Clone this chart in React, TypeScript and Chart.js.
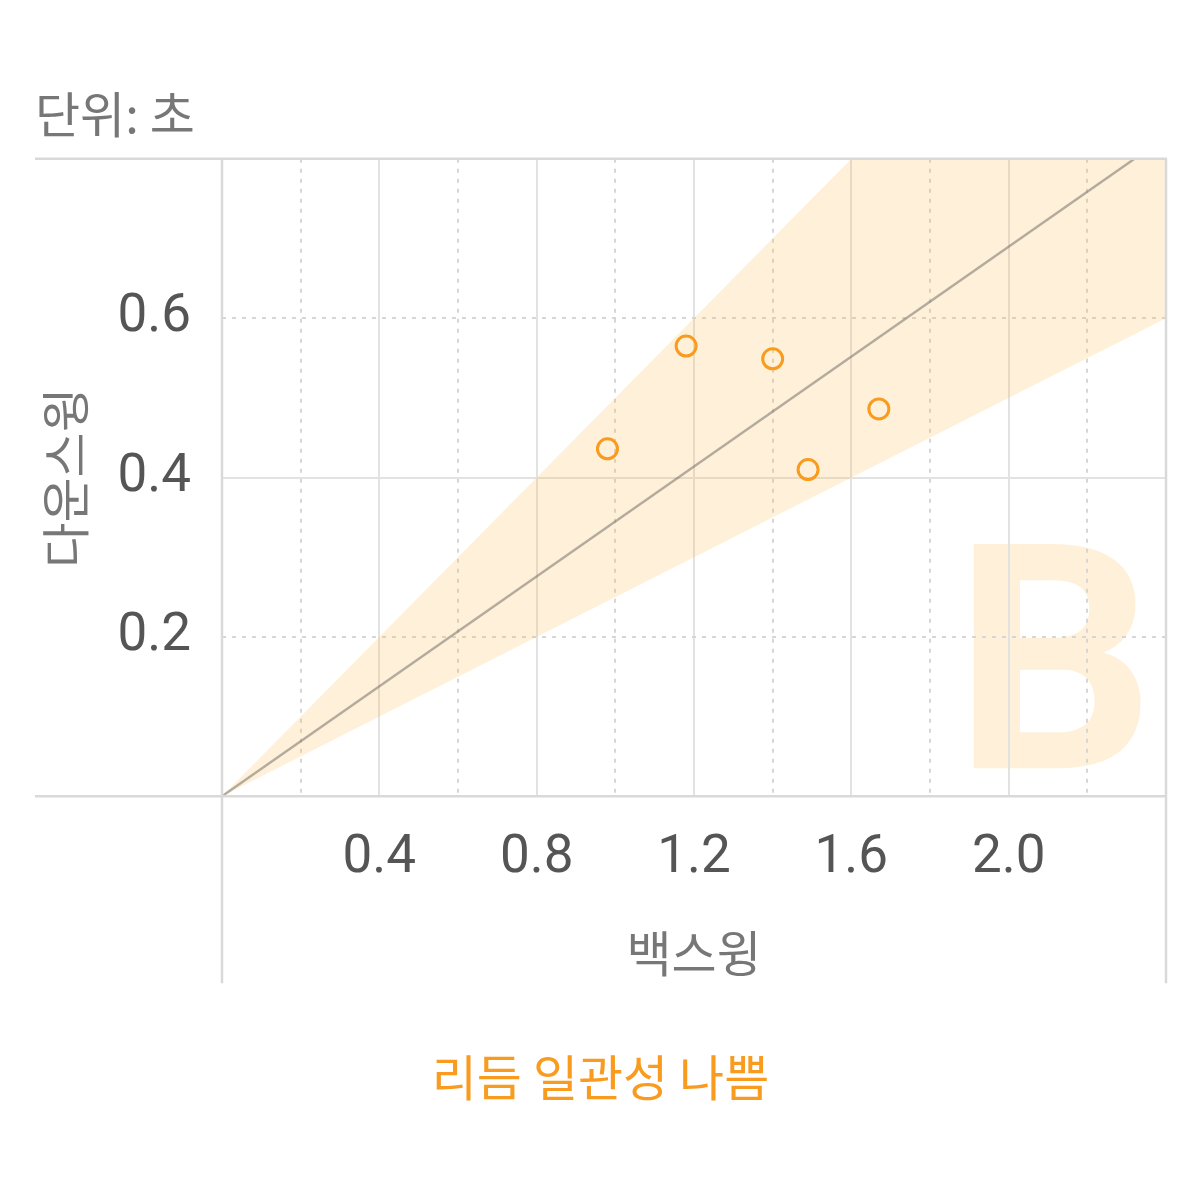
import React, { useEffect, useRef } from "react";
import { Chart, registerables } from "chart.js";

Chart.register(...registerables);

// ---- text ----
const unitLabel = "단위: 초";
const xTitle = "백스윙";
const yTitle = "다운스윙";
const verdict = "리듬 일관성 나쁨";
const gradeLetter = "B";

// ---- measured swings (seconds) ----
const backswing = [0.98, 1.18, 1.4, 1.67, 1.49];
const downswing = [0.436, 0.565, 0.549, 0.486, 0.41];

// ---- acceptable band polygon and reference ratio line ----
const bandX = [0, 1.6, 2.4, 2.4, 0];
const bandY = [0, 0.8, 0.8, 0.6, 0];
const refX = [0, 2.32];
const refY = [0, 0.8];

// ---- axes ----
const xMin = 0;
const xMax = 2.4;
const xStep = 0.2;
const yMin = 0;
const yMax = 0.8;
const yStep = 0.2;
const xTickLabels = ["0.4", "0.8", "1.2", "1.6", "2.0"];
const yTickLabels = ["0.2", "0.4", "0.6"];
const majorEvery = 0.4;

const ORANGE = "#F89B1E";
const GRID_SOLID = "#e2e2e2";
const GRID_DOT = "#d6d6d6";
const FRAME = "#d9d9d9";
const TICK_COLOR = "#555555";
const TITLE_COLOR = "#777777";
const BAND_FILL = "rgba(255,190,80,0.22)";
const WATERMARK = "rgba(255,190,80,0.22)";
const KR = '"Noto Sans CJK KR", "Noto Sans", sans-serif';
const NUM = 'Roboto, "Noto Sans CJK KR", sans-serif';

const isMajor = (v: number) => {
  const r = v / majorEvery;
  return Math.abs(r - Math.round(r)) < 1e-6;
};

const fmt = (v: number) => (Math.round(v * 10) / 10).toFixed(1);

const watermarkPlugin = {
  id: "watermark",
  beforeDraw(chart: any) {
    const { ctx, chartArea } = chart;
    ctx.save();
    ctx.font = `bold 100px Roboto, sans-serif`;
    const m0 = ctx.measureText(gradeLetter);
    const size = (227 / m0.actualBoundingBoxAscent) * 100;
    ctx.font = `bold ${size}px Roboto, sans-serif`;
    const m = ctx.measureText(gradeLetter);
    ctx.fillStyle = WATERMARK;
    ctx.textAlign = "left";
    ctx.textBaseline = "alphabetic";
    const x = chartArea.right - 25 - m.actualBoundingBoxRight;
    const y = chartArea.bottom - 28;
    ctx.fillText(gradeLetter, x, y);
    ctx.restore();
  },
};

const framePlugin = {
  id: "frame",
  afterDatasetsDraw(chart: any) {
    const { ctx, chartArea } = chart;
    const xs = chart.scales.x;
    const ys = chart.scales.y;
    ctx.save();
    ctx.strokeStyle = FRAME;
    ctx.lineWidth = 2.5;
    ctx.setLineDash([]);
    [yMin, yMax].forEach((v) => {
      const py = ys.getPixelForValue(v);
      ctx.beginPath();
      ctx.moveTo(ys.left, py);
      ctx.lineTo(chartArea.right + 1, py);
      ctx.stroke();
    });
    [xMin, xMax].forEach((v) => {
      const px = xs.getPixelForValue(v);
      ctx.beginPath();
      ctx.moveTo(px, chartArea.top);
      ctx.lineTo(px, xs.bottom);
      ctx.stroke();
    });
    ctx.restore();
  },
};

export default function App() {
  const ref = useRef<HTMLCanvasElement | null>(null);

  useEffect(() => {
    if (!ref.current) return;
    const gridColor = (c: any) =>
      c.tick && !isMajor(c.tick.value) ? GRID_DOT : GRID_SOLID;
    const gridDash = (c: any) =>
      c.tick && !isMajor(c.tick.value) ? [4, 6] : [];

    const chart = new Chart(ref.current, {
      type: "scatter",
      data: {
        datasets: [
          {
            type: "scatter",
            label: "swings",
            data: backswing.map((x, i) => ({ x, y: downswing[i] })),
            pointRadius: 10,
            pointBorderWidth: 3,
            pointBorderColor: ORANGE,
            pointBackgroundColor: "rgba(0,0,0,0)",
            borderColor: ORANGE,
            backgroundColor: "rgba(0,0,0,0)",
            order: 0,
          },
          {
            type: "line",
            label: "reference",
            data: refX.map((x, i) => ({ x, y: refY[i] })),
            borderColor: "rgba(105,102,96,0.5)",
            borderWidth: 2.5,
            pointRadius: 0,
            fill: false,
            tension: 0,
            order: 1,
          },
          {
            type: "line",
            label: "band",
            data: bandX.map((x, i) => ({ x, y: bandY[i] })),
            borderWidth: 0,
            borderColor: "rgba(0,0,0,0)",
            backgroundColor: BAND_FILL,
            pointRadius: 0,
            fill: "shape",
            tension: 0,
            order: 2,
          },
        ] as any,
      },
      options: {
        animation: false,
        responsive: false,
        events: [],
        layout: { padding: { left: 35, right: 34, top: 0, bottom: 93 } },
        plugins: {
          legend: { display: false },
          tooltip: { enabled: false },
          title: {
            display: true,
            text: unitLabel,
            align: "start",
            color: TITLE_COLOR,
            font: { family: KR, size: 49, weight: "normal" },
            padding: { top: 85, bottom: 15 },
          },
          subtitle: {
            display: true,
            text: verdict,
            position: "bottom",
            align: "center",
            color: ORANGE,
            font: { family: KR, size: 49, weight: "normal" },
            padding: { top: 65, bottom: 0 },
          },
        },
        scales: {
          x: {
            type: "linear",
            min: xMin,
            max: xMax,
            afterFit: (s: any) => {
              s.height = 187;
            },
            ticks: {
              stepSize: xStep,
              autoSkip: false,
              maxRotation: 0,
              padding: 31,
              color: TICK_COLOR,
              font: { family: NUM, size: 53 },
              callback: (v: any) => (xTickLabels.includes(fmt(v)) ? fmt(v) : ""),
            },
            grid: { color: gridColor, lineWidth: 2, drawTicks: false },
            border: { display: false, dash: gridDash },
            title: {
              display: true,
              text: xTitle,
              color: TITLE_COLOR,
              font: { family: KR, size: 49 },
              padding: { top: 0, bottom: 0 },
            },
          },
          y: {
            type: "linear",
            min: yMin,
            max: yMax,
            afterFit: (s: any) => {
              s.width = 187;
            },
            ticks: {
              stepSize: yStep,
              autoSkip: false,
              padding: 31,
              color: TICK_COLOR,
              font: { family: NUM, size: 53 },
              callback: (v: any) => (yTickLabels.includes(fmt(v)) ? fmt(v) : ""),
            },
            grid: { color: gridColor, lineWidth: 2, drawTicks: false },
            border: { display: false, dash: gridDash },
            title: {
              display: true,
              text: yTitle,
              color: TITLE_COLOR,
              font: { family: KR, size: 49 },
              padding: { top: 1, bottom: 0 },
            },
          },
        },
      } as any,
      plugins: [watermarkPlugin, framePlugin],
    });
    return () => chart.destroy();
  }, []);

  return (
    <div
      style={{
        position: "absolute",
        left: 0,
        top: 0,
        width: 1200,
        height: 1200,
        background: "#ffffff",
      }}
    >
      <canvas ref={ref} width={1200} height={1200} style={{ display: "block" }} />
    </div>
  );
}
